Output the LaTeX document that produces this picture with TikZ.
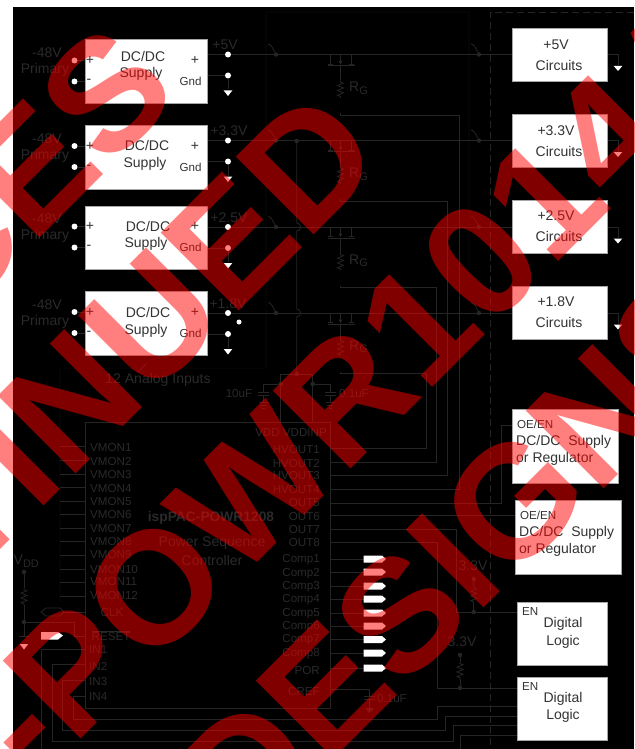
\documentclass[tikz,border=0pt]{standalone}
\usepackage{fontspec}
\setmainfont{Liberation Sans}
\definecolor{dimline}{HTML}{252525}
\definecolor{dimtext}{HTML}{2A2A2A}
\newcommand{\vzig}[2]{% x, ytop: 17px resistor
  \draw[wire] (#1,#2) -- ++(0,1.5) -- ++(3,1.2) -- ++(-6,2.4) -- ++(6,2.4) -- ++(-6,2.4) -- ++(6,2.4) -- ++(-6,2.4) -- ++(3,1.2) -- ++(0,1.5);}
\tikzset{
  wire/.style={draw=dimline,line width=.8pt},
  thick wire/.style={draw=dimline!115,line width=1.8pt},
  box/.style={draw=gray!70,line width=.8pt,fill=white,inner sep=0pt},
  wdot/.style={circle,fill=white,inner sep=0pt,minimum size=6pt},
  ddot/.style={circle,fill=dimline,inner sep=0pt,minimum size=4.5pt},
  gtri/.style={fill=white,draw=none},
  ltxt/.style={text=dimtext,inner sep=0pt},
  btxt/.style={text=black!80,inner sep=0pt},
  f14/.style={font=\fontsize{14}{14}\selectfont},
  f116/.style={font=\fontsize{11.6}{11.6}\selectfont},
  wm/.style={rotate=45,text=red,text opacity=.5,font=\fontsize{160}{160}\selectfont\bfseries,inner sep=0pt},
  outpin/.style={fill=white,draw=none},
}
\begin{document}
\begin{tikzpicture}[x=1pt,y=-1pt]
\useasboundingbox (0,0) rectangle (634,749);
\fill[black] (13,7) rectangle (634,749);

% frames and dashed boundary
\coordinate (frTL) at (266,12); \coordinate (frTR) at (469,12);
\draw[thick wire] (frTR) -- (469,300);
\draw[thick wire] (frTR) -- (frTL) -- (266,368.5) -- (60,368.5) -- (60,602);
\draw[wire] (138,372) -- (147,363);
\draw[wire,dash pattern=on 7pt off 4pt] (634,12) -- (490.5,12) -- (490.5,749);

% supplies
\foreach \n/\top/\dx/\dy/\lft/\rgt/\v/\vx/\cy in {
  a/39.5/-4/0/60.5/54.5/+5V/225/28.5,
  b/125/0/4/146/140.5/+3.3V/229/114.5,
  c/205.5/1/4/226.5/227/+2.5V/229/200,
  d/291/1/5/312/313/+1.8V/228/286}{
  \node[box,minimum width=122.5pt,minimum height=63.5pt,anchor=north west] (sup\n) at (84.5,\top) {};
  \node[btxt,f14] (dc\n) at (147+\dx,\top+16.5+\dy) {DC/DC};
  \node[btxt,f14] (sp\n) at (145+\dx,\top+34.5+\dy) {Supply};
  \node[btxt,f14] (pl\n) at (90,\lft) {+};
  \node[btxt,f14] (mi\n) at (89,\lft+21) {-};
  \node[btxt,f14] (pr\n) at (195,\lft) {+};
  \node[btxt,f116] (gn\n) at (190.5,\lft+21) {Gnd};
  \node[wdot] (li\n) at (74.5,\lft) {};
  \node[wdot] (lj\n) at (74.5,\lft+21) {};
  \draw[wire] (li\n) -- (li\n-|sup\n.west);
  \draw[wire] (lj\n) -- (lj\n-|sup\n.west);
  \node[wdot] (ro\n) at (228,\rgt) {};
  \node[wdot] (rg\n) at (228,\rgt+21) {};
  \draw[wire] (rg\n-|sup\n.east) -- (rg\n);
  \draw[wire] (rg\n) -- ++(0,14);
  \fill[gtri] (223.7,\rgt+36) -- (232.3,\rgt+36) -- (228,\rgt+41.5) -- cycle;
  \node[ltxt,f14] (m\n) at (47,\lft-7.5) {-48V};
  \node[ltxt,f14] (pm\n) at (45,\lft+9.5) {Primary};
  \node[ltxt,f14] (v\n) at (\vx,\rgt-9.5) {\v};
  % circuit box
  \node[box,minimum width=95pt,minimum height=52.5pt,anchor=north west] (ci\n) at (512,\cy) {};
  \node[btxt,f14] (cv\n) at (556,\cy+16) {\v};
  \node[btxt,f14] (ct\n) at (559,\cy+36.5) {Circuits};
  % main rail with switches and FET
  \draw[wire] (sup\n.east|-ro\n) -- (ro\n);
  \draw[wire] (ro\n) -- (ro\n-|ci\n.west);
  \node[ddot] (sw\n) at (276,\rgt) {};
  \node[ddot] (sx\n) at (479,\rgt) {};
  \draw[wire] (268,\rgt-10.5) .. controls (271,\rgt-10.5) and (273,\rgt-6) .. (sw\n);
  \draw[wire] (471,\rgt-10.5) .. controls (474,\rgt-10.5) and (476,\rgt-6) .. (sx\n);
  \draw[wire] (330,\rgt) -- ++(0,9.5) ++(-2.5,0) -- ++(5,0);
  \draw[wire] (340.5,\rgt) -- ++(0,9.5);
  \draw[wire] (351,\rgt) -- ++(0,9.5) ++(-2.5,0) -- ++(5,0);
  \draw[wire,line width=1pt] (327.5,\rgt+11) -- (354.5,\rgt+11);
  \fill[dimline] (338.5,\rgt+6.5) -- (342.5,\rgt+6.5) -- (340.5,\rgt+10) -- cycle;
  \draw[wire] (340.5,\rgt+11) -- ++(0,15);
  \vzig{340.5}{\rgt+26}
  \node[ltxt,f14,anchor=west] (rg\n l) at (349,\rgt+33.5) {R\raisebox{-2.5pt}{\fontsize{11}{11}\selectfont G}};
  % load ground
  \draw[wire] (ci\n.east|-ro\n) -- (618,\rgt) -- (618,\rgt+11);
  \fill[gtri] (613.7,\rgt+11.5) -- (622.3,\rgt+11.5) -- (618,\rgt+16.5) -- cycle;
}
\node[wdot,minimum size=5pt] (xd) at (239,322) {};

% IC
\node[draw=dimline,line width=.8pt,minimum width=245.5pt,minimum height=286pt,anchor=north west,inner sep=0pt] (ic) at (84.5,422.3) {};
\node[ltxt,f14] (an) at (158,380) {12 Analog Inputs};
\node[ltxt,font=\fontsize{13.8}{13.8}\selectfont\bfseries] (tt) at (211,517.5) {ispPAC-POWR1208};
\node[ltxt,f14] (t2) at (212,543) {Power Sequence};
\node[ltxt,f14] (t3) at (212,560) {Controller};
\foreach \i/\y/\ty in {1/446.7/448,2/460.3/462,3/474/475,4/487.3/489,5/501/502,6/514.3/515,7/528.3/529,8/541.7/542,9/555.3/555,10/569/569,11/582.3/582,12/596/596}{
  \node[ltxt,f116,anchor=west] (vm\i) at (90,\ty) {VMON\i};
  \draw[wire] (60,\y) -- (84.5,\y);
}
\node[ltxt,f116] (clk) at (112,612.5) {CLK};
\node[ltxt,f116,anchor=west] (rs) at (91.5,635.5) {$\overline{\mbox{RESET}}$};
\foreach \i/\y in {1/650,2/666,3/681,4/697}{\node[ltxt,f116,anchor=west] (in\i) at (89,\y) {IN\i};}
\node[ltxt,f116,anchor=east] (vd) at (327,433) {VDD VDDINP};
\foreach \t/\y in {HVOUT1/450,HVOUT2/463.5,HVOUT3/476,HVOUT4/490,OUT5/503,OUT6/517,OUT7/530,OUT8/543,Comp1/560,Comp2/574,Comp3/587,Comp4/600,Comp5/614,Comp6/627,Comp7/640,Comp8/654,POR/670,CREF/691}{
  \node[ltxt,f116,anchor=east] (p\t) at (320,\y) {\t};}

% RG returns
\draw[wire] (340.5,113) -- (340.5,115) -- (459,115) -- (459,489) -- (330,489);
\draw[wire] (340.5,199) -- (340.5,201) -- (447,201) -- (447,475) -- (330,475);
\draw[wire] (340.5,285.5) -- (340.5,287) -- (436,287) -- (436,462) -- (330,462);
\draw[wire] (340.5,371.5) -- (340.5,373) -- (426,373) -- (426,448.5) -- (330,448.5);

% VDD rail and caps
\draw[wire] (296.7,141) -- (296.7,223) arc[start angle=-90,end angle=90,radius=4] -- (296.7,309) arc[start angle=-90,end angle=90,radius=4] -- (296.7,374);
\node[ddot] (ra) at (296.7,141) {};
\node[ddot] (rb) at (296.7,374) {};
\node[ddot] (cl) at (280.7,384) {};
\node[ddot] (cr) at (312.7,384) {};
\draw[wire] (280.7,422.3) -- (280.7,374) -- (312.7,374) -- (312.7,422.3);
\draw[wire] (cl) -- (263,384) -- (263,392);
\draw[wire] (cr) -- (330,384) -- (330,392);
\foreach \x in {263,330}{
  \draw[wire] (\x-5.5,392) -- (\x+5.5,392);
  \draw[wire] (\x-5.5,395.5) -- (\x+5.5,395.5);
  \draw[wire] (\x,395.5) -- (\x,402);
  \draw[wire] (\x-4.5,402) -- (\x+4.5,402);
  \draw[wire] (\x-3,405) -- (\x+3,405);
  \draw[wire] (\x-1.5,408) -- (\x+1.5,408);
}
\node[ltxt,f116] (c1) at (239,394) {10uF};
\node[ltxt,f116] (c2) at (354,394) {0.1uF};

% right side outputs
\draw[wire] (330,503) -- (501,503) -- (501,425.5) -- (512,425.5);
\draw[wire] (330,515.5) -- (514.5,515.5);
\draw[wire] (330,529) -- (456.5,529) -- (456.5,612) -- (517,612);
\draw[wire] (330,542) -- (437,542) -- (437,688) -- (517,688);

\node[box,minimum width=106pt,minimum height=74.5pt,anchor=north west] (oe1) at (512,408.5) {};
\node[box,minimum width=106pt,minimum height=74pt,anchor=north west] (oe2) at (514.5,500) {};
\node[box,minimum width=90pt,minimum height=63pt,anchor=north west] (dl1) at (517,602) {};
\node[box,minimum width=90pt,minimum height=63pt,anchor=north west] (dl2) at (517,677) {};
\foreach \b/\x/\ya/\yb/\yc in {a/516.5/424/442/459,b/519.5/515/533/550}{
  \node[btxt,f116,anchor=west] (oe\b) at (\x+.5,\ya) {OE/EN};
  \node[btxt,f14,anchor=west] (ds\b) at (\x-.5,\yb) {DC/DC\ \ Supply};
  \node[btxt,f14,anchor=west] (dr\b) at (\x-.5,\yc) {or Regulator};
}
\foreach \b/\ya/\yb/\yc in {a/612/624/642,b/687/699/716}{
  \node[btxt,f116,anchor=west] (en\b) at (522,\ya) {EN};
  \node[btxt,f14] (dg\b) at (563,\yb) {Digital};
  \node[btxt,f14] (lg\b) at (563,\yc) {Logic};
}
% pull-ups
\node[ltxt,f14] (u1) at (473,566) {3.3V};
\node[ltxt,f14] (u2) at (462,642) {3.3V};
\node[ddot] (u1a) at (473.7,579) {}; \node[ddot] (u1b) at (473.7,612) {};
\node[ddot] (u2a) at (460,655) {}; \node[ddot] (u2b) at (460,688) {};
\draw[wire] (u1a) -- (473.7,586); \vzig{473.7}{586} \draw[wire] (473.7,603) -- (u1b);
\draw[wire] (u2a) -- (460,662); \vzig{460}{662} \draw[wire] (460,679) -- (u2b);

% comparator outputs
\foreach \i/\y in {1/559,2/572,3/586,4/599,5/613,6/626,7/639.5,8/653,9/668}{
  \draw[wire] (330,\y) -- (363.5,\y);
  \fill[outpin] (363.5,\y-3.5) -- (382,\y-3.5) -- (386,\y) -- (382,\y+3.5) -- (363.5,\y+3.5) -- cycle;
}
% CREF
\draw[wire] (330,689) -- (369.5,689) -- (369.5,696);
\draw[wire] (364,696) -- (375,696);
\draw[wire] (364,699.5) -- (375,699.5);
\draw[wire] (369.5,699.5) -- (369.5,708);
\fill[dimline] (365,708) -- (374,708) -- (369.5,713) -- cycle;
\node[ltxt,f116] (c3) at (392,698) {0.1uF};

% bottom bus
\draw[wire] (84.5,696) -- (73,696) -- (73,719) -- (437,719) -- (437,706.7) -- (517,706.7);
\draw[wire] (84.5,680) -- (62.5,680) -- (62.5,730) -- (445,730) -- (445,716.5) -- (517,716.5);
\draw[wire] (84.5,664.6) -- (52,664.6) -- (52,741) -- (453,741) -- (453,725.5) -- (517,725.5);
\draw[wire] (84.5,649) -- (41.5,649) -- (41.5,749);
\draw[wire] (460.5,749) -- (460.5,735) -- (517,735);

% left VDD, clock, reset
\node[ltxt,f14,anchor=west] (vddl) at (13.5,561) {V\raisebox{-2.5pt}{\fontsize{11}{11}\selectfont DD}};
\node[ddot] (vt) at (24,572) {};
\node[ddot] (vb) at (24,622) {};
\draw[wire] (vt) -- (24,588); \vzig{24}{588} \draw[wire] (24,605) -- (vb);
\draw[wire] (vb) -- (74,622) -- (74,636) -- (84.5,636);
\draw[wire] (vb) -- (24,636);
\draw[wire] (19,636) -- (29,636);
\fill[gtri] (19.8,644) -- (28.2,644) -- (24,649.5) -- cycle;
\draw[wire] (41,612) -- (46,608) -- (60,608) -- (64,612) -- (60,616) -- (46,616) -- cycle;
\draw[wire] (64,612) -- (84.5,612);
\fill[outpin] (41,632) -- (58,632) -- (63,635.5) -- (58,639.5) -- (41,639.5) -- cycle;

% watermark
\begin{scope}
\clip (0,0) rectangle (634,749);
\node[wm] (w1) at (27.7,172.3) {CES};
\node[wm] (w2) at (13.5,458.5) {CONTINUED};
\node[wm] (w3) at (358.5,383.5) {-POWR1014A};
\node[wm] (w4) at (460,555) {DESIGNS};
\end{scope}
\end{tikzpicture}
\end{document}
